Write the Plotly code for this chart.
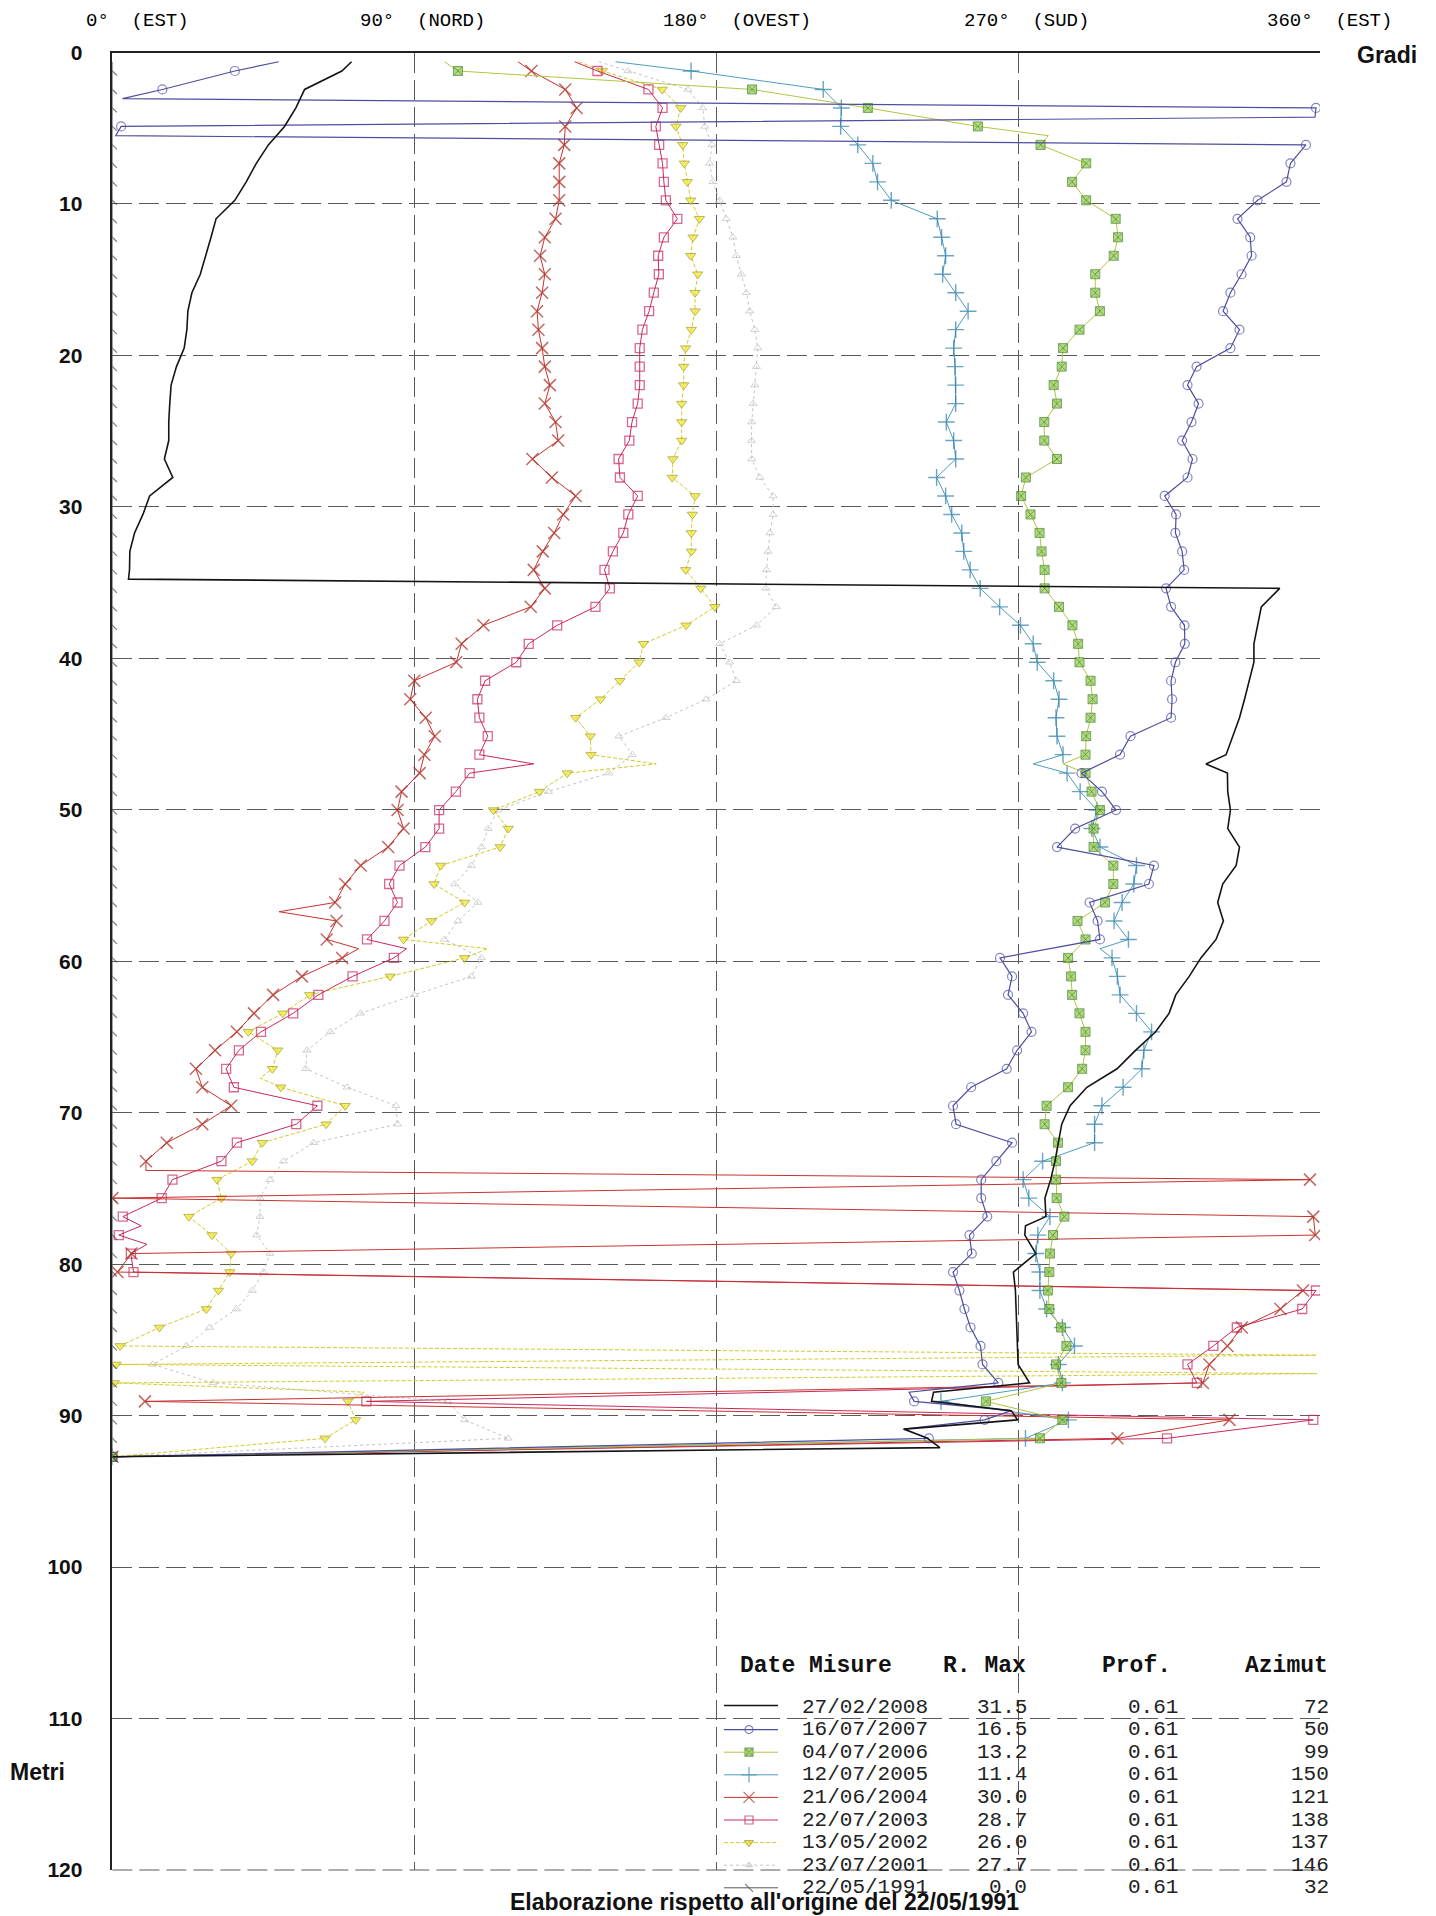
import plotly.graph_objects as go

# ---------------- DATA ----------------
DEPTHS = [0.61, 1.22, 2.44, 3.66, 4.88, 6.10, 7.32, 8.54, 9.76, 10.98, 12.20, 13.42, 14.64,
          15.86, 17.08, 18.30, 19.52, 20.74, 21.96, 23.18, 24.40, 25.62, 26.84, 28.06, 29.28,
          30.50, 31.72, 32.94, 34.16, 35.38, 36.60, 37.82, 39.04, 40.26, 41.48, 42.70, 43.92,
          45.14, 46.36, 47.58, 48.80, 50.02, 51.24, 52.46, 53.68, 54.90, 56.12, 57.34, 58.56,
          59.78, 61.00, 62.22, 63.44, 64.66, 65.88, 67.10, 68.32, 69.54, 70.76, 71.98, 73.20,
          74.42, 75.64, 76.86, 78.08, 79.30, 80.52, 81.74, 82.96, 84.18, 85.40, 86.62, 87.84,
          89.06, 90.28, 91.50, 92.72]

AZ_2008 = [71.3, 68.4, 57.3, 54.7, 51.3, 46.5, 42.9, 39.9, 36.5, 30.9, 29.4, 27.7, 26.2,
           23.7, 22.5, 22.2, 21.4, 19.1, 17.5, 17.1, 16.8, 16.8, 15.5, 18.0, 11.1,
           9.1, 6.6, 5.2, 5.1, 348.0, 342.5, 341.5, 340.3, 340.3, 339.0, 337.5, 336.0,
           334.0, 332.0, 332.4, 332.5, 333.3, 332.5, 336.0, 335.0, 331.0, 329.5, 331.2, 329.0,
           324.5, 321.0, 317.0, 315.0, 311.0, 305.0, 299.5, 290.5, 285.5, 283.0, 282.0, 281.0,
           279.7, 278.0, 278.3, 272.0, 275.3, 268.6, 269.2, 269.4, 269.6, 270.0, 270.0, 273.4,
           244.2, 269.8, 243.0, 0.0]
EXTRA_2008_D = [34.77, 46.97, 77.47, 88.45, 89.67, 90.89, 92.11]
EXTRA_2008_A = [4.8, 326.0, 272.2, 244.8, 268.0, 236.0, 246.7]

AZ_2007 = [49.6, 36.5, 14.9, 358.8, 2.6, 355.8, 351.2, 350.0, 341.4, 335.4, 339.2, 339.6, 336.6,
           333.3, 331.1, 336.0, 333.3, 323.2, 320.5, 323.8, 321.7, 318.9, 322.0, 320.5, 313.7,
           317.1, 316.9, 318.9, 319.5, 314.1, 315.6, 319.6, 319.7, 316.9, 315.6, 315.9, 315.6,
           303.5, 300.4, 288.9, 295.0, 299.2, 287.0, 281.6, 310.5, 309.0, 291.3, 293.7, 294.4,
           264.6, 268.2, 267.0, 271.5, 274.0, 269.7, 266.6, 256.0, 250.6, 251.5, 268.2, 263.5,
           259.0, 259.0, 260.8, 255.5, 256.2, 250.6, 252.5, 254.0, 255.8, 258.8, 259.4, 264.1,
           239.0, 260.0, 243.4, 0.0]
EXTRA_2007_D = [3.05, 4.27, 5.49, 88.45, 89.67, 90.89]
EXTRA_2007_A = [3.0, 358.5, 1.0, 237.5, 268.0, 235.7]

AZ_2006 = [99.0, 103.0, 190.7, 225.2, 258.0, 276.7, 290.3, 286.1, 290.3, 299.1, 299.8, 298.5, 293.0,
           293.0, 294.4, 288.3, 283.4, 283.0, 280.6, 281.6, 277.8, 277.8, 281.6, 272.3, 270.9,
           273.7, 276.4, 277.0, 277.9, 277.9, 282.2, 286.2, 287.9, 288.3, 291.6, 292.2, 291.6,
           290.3, 290.1, 290.1, 291.9, 294.4, 292.5, 292.5, 298.4, 298.4, 295.9, 287.7, 290.1,
           284.9, 285.8, 286.1, 288.3, 290.1, 290.1, 289.1, 284.9, 278.5, 277.9, 281.9, 281.3,
           281.3, 281.5, 283.8, 280.4, 279.5, 279.3, 278.9, 279.3, 282.8, 284.4, 281.3, 282.9,
           260.4, 283.2, 276.5, 0.0]
EXTRA_2006_D = [5.49, 46.97]
EXTRA_2006_A = [279.0, 283.4]

AZ_2005 = [150.0, 172.5, 211.9, 217.3, 217.1, 222.2, 226.7, 228.1, 232.2, 245.9, 247.2, 248.4, 247.5,
           251.4, 255.1, 251.4, 250.8, 251.2, 251.4, 251.4, 248.6, 250.8, 251.4, 245.7, 248.4,
           250.2, 253.2, 253.8, 255.7, 258.7, 264.5, 270.7, 274.5, 275.7, 280.6, 282.2, 281.3,
           281.6, 283.4, 284.6, 288.5, 293.5, 292.0, 294.4, 305.3, 304.5, 301.0, 298.6, 302.9,
           298.0, 299.6, 300.4, 305.3, 309.8, 307.5, 306.9, 301.3, 295.0, 292.8, 292.8, 277.3,
           271.5, 273.2, 279.5, 275.9, 275.3, 276.5, 276.5, 278.5, 283.2, 286.8, 282.0, 283.2,
           247.0, 285.0, 272.2, 0.0]
EXTRA_2005_D = [46.97, 59.17]
EXTRA_2005_A = [274.5, 294.4]

AZ_2004 = [120.9, 124.9, 135.0, 138.4, 135.0, 134.7, 133.2, 133.2, 133.2, 132.1, 128.9, 127.5, 128.9,
           128.1, 126.6, 127.0, 128.1, 128.9, 130.4, 128.9, 132.1, 132.9, 125.2, 131.0, 138.1,
           134.4, 131.7, 128.3, 125.6, 128.9, 124.7, 110.6, 104.1, 102.5, 90.0, 88.8, 93.4,
           96.1, 93.0, 91.6, 86.2, 85.0, 86.8, 82.2, 74.0, 69.4, 66.4, 66.8, 63.9,
           68.5, 56.5, 47.9, 42.2, 37.1, 30.6, 24.9, 26.8, 35.4, 26.8, 16.2, 10.0,
           357.0, 0.0, 358.0, 358.6, 5.7, 1.5, 354.9, 348.2, 336.7, 332.4, 327.0, 325.1,
           9.7, 333.0, 299.6, 0.0]
EXTRA_2004_D = [56.73, 59.17, 73.81]
EXTRA_2004_A = [49.7, 73.4, 10.0]

AZ_2003 = [137.8, 144.6, 159.8, 164.0, 162.0, 163.0, 164.0, 164.4, 165.0, 168.4, 164.4, 162.7, 162.9,
           161.4, 160.0, 158.0, 157.2, 157.2, 157.2, 156.6, 154.9, 154.1, 150.9, 151.3, 156.6,
           153.8, 152.3, 149.2, 146.7, 148.3, 144.0, 132.6, 124.1, 120.4, 111.1, 108.8, 109.4,
           111.9, 109.4, 106.5, 102.4, 97.4, 97.4, 93.3, 85.6, 82.5, 85.0, 81.1, 75.9,
           83.9, 71.6, 61.4, 53.9, 44.3, 37.7, 33.9, 36.2, 61.1, 54.8, 37.1, 32.5,
           17.9, 14.7, 3.1, 1.9, 5.5, 6.3, 358.8, 354.7, 335.2, 328.2, 320.5, 323.3,
           75.7, 358.0, 314.4, 0.0]
EXTRA_2003_D = [46.97, 59.17, 77.47, 78.69]
EXTRA_2003_A = [125.6, 87.7, 8.6, 10.3]

AZ_2002 = [139.0, 146.0, 163.9, 169.4, 168.0, 170.0, 170.5, 171.4, 172.4, 175.0, 173.1, 172.4, 174.5,
           173.7, 173.7, 172.6, 170.9, 170.3, 170.3, 169.7, 169.7, 169.7, 167.1, 166.9, 173.7,
           172.9, 172.6, 172.6, 170.9, 175.4, 179.6, 171.0, 158.3, 157.0, 151.3, 145.5, 138.1,
           142.5, 142.7, 135.6, 127.3, 113.6, 118.0, 115.6, 97.9, 95.9, 105.0, 95.1, 86.8,
           105.0, 82.8, 58.8, 50.8, 40.5, 49.3, 47.7, 50.2, 69.4, 63.7, 44.7, 41.7,
           31.2, 32.5, 22.8, 29.7, 35.4, 35.0, 31.6, 28.0, 14.0, 2.3, 1.1, 0.6,
           70.2, 72.5, 63.4, 0.0]
EXTRA_2002_D = [46.97, 59.17, 67.71, 86.01, 87.23, 88.45]
EXTRA_2002_A = [162.1, 111.9, 44.0, 359.0, 359.0, 75.0]

AZ_2001 = [145.0, 153.7, 171.6, 176.0, 176.6, 178.8, 178.0, 179.0, 181.0, 183.0, 185.0, 186.0, 187.5,
           189.0, 190.0, 191.5, 192.4, 192.0, 191.5, 191.0, 190.6, 190.5, 190.6, 193.0, 197.0,
           197.0, 196.0, 195.5, 195.0, 194.8, 197.9, 192.0, 181.0, 184.0, 186.0, 177.0, 165.0,
           151.0, 155.0, 148.0, 130.0, 115.0, 112.0, 110.0, 107.0, 102.0, 109.0, 103.0, 99.0,
           110.0, 107.0, 90.0, 74.0, 65.0, 58.0, 57.6, 70.0, 84.5, 85.0, 60.0, 51.0,
           47.0, 44.0, 44.0, 43.0, 47.0, 45.0, 41.7, 37.0, 29.0, 22.0, 12.0, 30.0,
           100.0, 105.0, 118.0, 0.0]
EXTRA_2001_D = []
EXTRA_2001_A = []

AZ_1991 = [0.0, 0.0, 0.0, 0.0, 0.0, 0.0, 0.0, 0.0, 0.0, 0.0, 0.0, 0.0, 0.0,
           0.0, 0.0, 0.0, 0.0, 0.0, 0.0, 0.0, 0.0, 0.0, 0.0, 0.0, 0.0,
           0.0, 0.0, 0.0, 0.0, 0.0, 0.0, 0.0, 0.0, 0.0, 0.0, 0.0, 0.0,
           0.0, 0.0, 0.0, 0.0, 0.0, 0.0, 0.0, 0.0, 0.0, 0.0, 0.0, 0.0,
           0.0, 0.0, 0.0, 0.0, 0.0, 0.0, 0.0, 0.0, 0.0, 0.0, 0.0, 0.0,
           0.0, 0.0, 0.0, 0.0, 0.0, 0.0, 0.0, 0.0, 0.0, 0.0, 0.0, 0.0,
           0.0, 0.0, 0.0, 0.0]
EXTRA_1991_D = []
EXTRA_1991_A = []

LEGEND_DATES = ["27/02/2008", "16/07/2007", "04/07/2006", "12/07/2005", "21/06/2004",
                "22/07/2003", "13/05/2002", "23/07/2001", "22/05/1991"]
LEGEND_RMAX = ["31.5", "16.5", "13.2", "11.4", "30.0", "28.7", "26.0", "27.7", "0.0"]
LEGEND_PROF = ["0.61", "0.61", "0.61", "0.61", "0.61", "0.61", "0.61", "0.61", "0.61"]
LEGEND_AZIMUT = ["72", "50", "99", "150", "121", "138", "137", "146", "32"]
LEGEND_HEADERS = ["Date Misure", "R. Max", "Prof.", "Azimut"]

X_TICK_VALUES = [0, 90, 180, 270, 360]
X_TICK_LABELS = ["0°  (EST)", "90°  (NORD)", "180°  (OVEST)", "270°  (SUD)", "360°  (EST)"]
Y_TICK_VALUES = [0, 10, 20, 30, 40, 50, 60, 70, 80, 90, 100, 110, 120]

TITLE = "Elaborazione rispetto all'origine del 22/05/1991"
X_TITLE = "Gradi"
Y_TITLE = "Metri"

# ---------------- STYLES ----------------
STYLES = {
    "22/05/1991": dict(az=AZ_1991, ed=EXTRA_1991_D, ea=EXTRA_1991_A,
                       line=dict(color="#555555", width=1),
                       marker=dict(symbol="line-nw-open", size=9, color="#444444",
                                   line=dict(color="#444444", width=1.2))),
    "23/07/2001": dict(az=AZ_2001, ed=EXTRA_2001_D, ea=EXTRA_2001_A,
                       line=dict(color="#C4C4C4", width=1, dash="dot"),
                       marker=dict(symbol="triangle-up-open", size=7, color="#BDBDBD",
                                   line=dict(color="#BDBDBD", width=1))),
    "13/05/2002": dict(az=AZ_2002, ed=EXTRA_2002_D, ea=EXTRA_2002_A,
                       line=dict(color="#D2CB2A", width=1, dash="4px,2px"),
                       marker=dict(symbol="triangle-down", size=9, color="#F4E62A",
                                   line=dict(color="#9C9A12", width=1))),
    "22/07/2003": dict(az=AZ_2003, ed=EXTRA_2003_D, ea=EXTRA_2003_A,
                       line=dict(color="#C8285C", width=1),
                       marker=dict(symbol="square-open", size=9, color="#C8285C",
                                   line=dict(color="#C8285C", width=1.3))),
    "21/06/2004": dict(az=AZ_2004, ed=EXTRA_2004_D, ea=EXTRA_2004_A,
                       line=dict(color="#C8322E", width=1),
                       marker=dict(symbol="x-thin-open", size=12, color="#A8281C",
                                   line=dict(color="#A8281C", width=1.5))),
    "12/07/2005": dict(az=AZ_2005, ed=EXTRA_2005_D, ea=EXTRA_2005_A,
                       line=dict(color="#4E9CC0", width=1),
                       marker=dict(symbol="cross-thin-open", size=12, color="#2E7EA6",
                                   line=dict(color="#2E7EA6", width=1.4))),
    "04/07/2006": dict(az=AZ_2006, ed=EXTRA_2006_D, ea=EXTRA_2006_A,
                       line=dict(color="#B3C444", width=1),
                       marker=dict(symbol="square-x", size=9, color="#92CC45",
                                   line=dict(color="#3C7E24", width=1))),
    "16/07/2007": dict(az=AZ_2007, ed=EXTRA_2007_D, ea=EXTRA_2007_A,
                       line=dict(color="#4E4E9E", width=1.2),
                       marker=dict(symbol="circle-open", size=9, color="#5050A4",
                                   line=dict(color="#5050A4", width=1.2))),
    "27/02/2008": dict(az=AZ_2008, ed=EXTRA_2008_D, ea=EXTRA_2008_A,
                       line=dict(color="#141414", width=1.6),
                       marker=None),
}
DRAW_ORDER = ["23/07/2001", "13/05/2002", "22/07/2003", "21/06/2004", "12/07/2005",
              "04/07/2006", "16/07/2007", "27/02/2008", "22/05/1991"]

fig = go.Figure()

for name in DRAW_ORDER:
    st = STYLES[name]
    msize = st["marker"]["size"] if st["marker"] else 0
    pts = [(d, a, (msize if i > 0 else 0)) for i, (d, a) in enumerate(zip(DEPTHS, st["az"]))]
    pts += [(d, a, 0) for d, a in zip(st["ed"], st["ea"])]
    pts.sort(key=lambda p: p[0])
    xs = [p[1] for p in pts]
    ys = [p[0] for p in pts]
    if st["marker"]:
        mk = dict(st["marker"])
        mk["size"] = [p[2] for p in pts]
        fig.add_trace(go.Scatter(x=xs, y=ys, mode="lines+markers", line=st["line"],
                                 marker=mk, showlegend=False, hoverinfo="skip"))
    else:
        fig.add_trace(go.Scatter(x=xs, y=ys, mode="lines", line=st["line"],
                                 showlegend=False, hoverinfo="skip"))

# ---------------- PAGE-PIXEL OVERLAY ----------------
# The page body has an 8px margin, so the figure is placed at (8, 8) in the window.
OFF = 8
W, H = 1436 - OFF, 1916 - OFF
PLOT_L, PLOT_R, PLOT_T, PLOT_B = 112.4, 1320.0, 52.5, 1870.0   # window pixels

ROW0_Y = 1707.0
ROW_DY = 22.6
annotations = []
shapes = []
mono = "Liberation Mono, Courier New, monospace"
sans = "Liberation Sans, Arial, Helvetica, sans-serif"

hdr_x = [738, 941, 1100, 1243]
for hx, htxt in zip(hdr_x, LEGEND_HEADERS):
    annotations.append(dict(x=hx, y=1666, xref="x2", yref="y2", text=htxt, showarrow=False,
                            xanchor="left", yanchor="middle",
                            font=dict(family=mono, size=23, color="#111", weight="bold")))
leg_mx, leg_my, leg_sym, leg_col, leg_lcol, leg_size = [], [], [], [], [], []
for i, name in enumerate(LEGEND_DATES):
    st = STYLES[name]
    y = ROW0_Y + i * ROW_DY
    ly = y - 1.5 if i == 0 else y
    shapes.append(dict(type="line", xref="x2", yref="y2", x0=724, x1=778, y0=ly, y1=ly,
                       line=dict(color=st["line"]["color"], width=st["line"]["width"],
                                 dash=st["line"].get("dash", "solid"))))
    if st["marker"]:
        leg_mx.append(749)
        leg_my.append(y)
        leg_sym.append(st["marker"]["symbol"])
        leg_col.append(st["marker"]["color"])
        leg_lcol.append(st["marker"]["line"]["color"])
        leg_size.append(st["marker"]["size"] - 1)
    for xx, txt, anc in [(800, name, "left"), (1029, LEGEND_RMAX[i], "right"),
                         (1180, LEGEND_PROF[i], "right"), (1331, LEGEND_AZIMUT[i], "right")]:
        annotations.append(dict(x=xx, y=y, xref="x2", yref="y2", text=txt, showarrow=False,
                                xanchor=anc, yanchor="middle",
                                font=dict(family=mono, size=21, color="#222")))

fig.add_trace(go.Scatter(x=leg_mx, y=leg_my, xaxis="x2", yaxis="y2", mode="markers",
                         marker=dict(symbol=leg_sym, color=leg_col, size=leg_size,
                                     line=dict(color=leg_lcol, width=1.2)),
                         cliponaxis=False, showlegend=False, hoverinfo="skip"))

# top direction labels (anchored to the azimuth axis values)
label_shift = [25, 8, 21, 8, 9]
for xv, txt, sh in zip(X_TICK_VALUES, X_TICK_LABELS, label_shift):
    annotations.append(dict(x=xv, y=0, xref="x", yref="y", text=txt, showarrow=False,
                            xanchor="center", yanchor="middle", xshift=sh, yshift=31,
                            font=dict(family=mono, size=19, color="#000")))

annotations.append(dict(x=1387, y=55, xref="x2", yref="y2", text=X_TITLE, showarrow=False,
                        xanchor="center", yanchor="middle",
                        font=dict(family=sans, size=23, color="#111", weight="bold")))
annotations.append(dict(x=37, y=1772, xref="x2", yref="y2", text=Y_TITLE, showarrow=False,
                        xanchor="center", yanchor="middle",
                        font=dict(family=sans, size=23, color="#111", weight="bold")))
annotations.append(dict(x=764, y=1902, xref="x2", yref="y2", text=TITLE, showarrow=False,
                        xanchor="center", yanchor="middle",
                        font=dict(family=sans, size=23, color="#111", weight="bold")))

GRID_DASH = "20px,7px"
# dashed bottom border at 120 m
shapes.append(dict(type="line", xref="x2", yref="y2", x0=PLOT_L, x1=PLOT_R, y0=PLOT_B,
                   y1=PLOT_B, line=dict(color="#5a5a5a", width=1, dash=GRID_DASH)))

fig.update_layout(
    width=W, height=H, autosize=False,
    margin=dict(l=0, r=0, t=0, b=0, pad=0),
    paper_bgcolor="white", plot_bgcolor="rgba(0,0,0,0)",
    showlegend=False,
    xaxis=dict(domain=[(PLOT_L - OFF) / W, (PLOT_R - OFF) / W], range=[0, 360],
               tickvals=X_TICK_VALUES, showticklabels=False, automargin=False,
               showgrid=True, gridcolor="#5a5a5a", gridwidth=1, griddash=GRID_DASH,
               zeroline=False, showline=True, linecolor="#222", linewidth=1.5,
               side="top", ticks="", fixedrange=True, anchor="y"),
    yaxis=dict(domain=[1 - (PLOT_B - OFF) / H, 1 - (PLOT_T - OFF) / H], range=[120, 0],
               tickvals=Y_TICK_VALUES, showgrid=True, gridcolor="#5a5a5a", automargin=False,
               gridwidth=1, griddash=GRID_DASH, zeroline=False, showline=True,
               linecolor="#222", linewidth=1.5, ticks="", ticklabelstandoff=24,
               tickfont=dict(family=sans, size=21, color="#111", weight="bold"),
               fixedrange=True, anchor="x"),
    xaxis2=dict(domain=[0, 1], range=[OFF, OFF + W], visible=False, fixedrange=True,
                anchor="y2"),
    yaxis2=dict(domain=[0, 1], range=[OFF + H, OFF], visible=False, fixedrange=True,
                anchor="x2"),
    annotations=annotations,
    shapes=shapes,
)

fig.write_html("out.html")
